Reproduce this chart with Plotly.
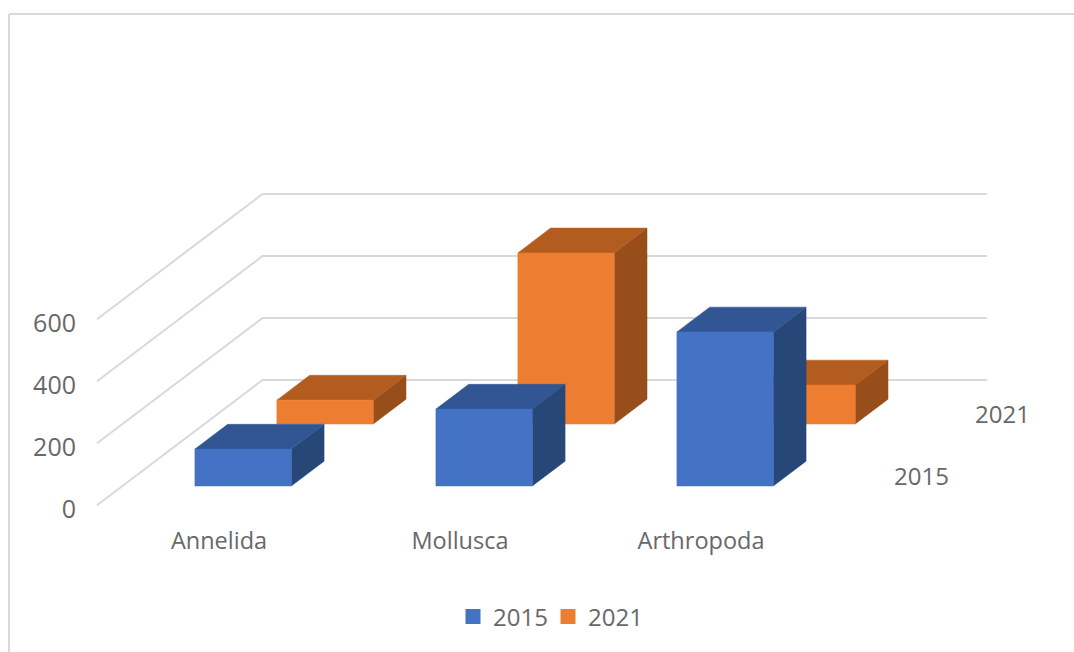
import plotly.graph_objects as go

categories = ["Annelida", "Mollusca", "Arthropoda"]
series_names = ["2015", "2021"]
values_2015 = [119, 248, 497]
values_2021 = [77, 552, 126]
value_ticks = [0, 200, 400, 600]

W, H = 1074, 652
FONT = "Open Sans"
TXT = "#686868"
GRID = "#d9d9d9"
COL = {
    "2015": ("#4472C4", "#325594", "#284779"),
    "2021": ("#ED7D31", "#B25C20", "#974E1A"),
}

# oblique projection: each unit of depth moves right and up on the page
DX = 0.34      # category units per depth unit
DV = 200.0     # value units per depth unit
BAR_L, BAR_R = -0.10, 0.30
BAR_D = 0.40
FLOOR_FRONT, FLOOR_BACK = -0.31, 1.71
WALL_L, WALL_R = -0.401, 2.606
LABEL_X, LABEL_V = 2.913, 35
TICK_LABEL_NUDGE = -13


def proj(c, v, d):
    return c + d * DX, v + d * DV


def poly(points, color):
    xs, ys = zip(*[proj(*p) for p in points])
    return go.Scatter(x=list(xs) + [xs[0]], y=list(ys) + [ys[0]], mode="lines", fill="toself",
                      fillcolor=color, line=dict(width=0.5, color=color),
                      hoverinfo="skip", showlegend=False)


fig = go.Figure()

# gridlines: side wall and back wall
gx, gy = [], []
for t in value_ticks:
    for p in [(WALL_L, t, FLOOR_FRONT), (WALL_L, t, FLOOR_BACK), (WALL_R, t, FLOOR_BACK)]:
        x, y = proj(*p)
        gx.append(x)
        gy.append(y)
    gx.append(None)
    gy.append(None)
fig.add_trace(go.Scatter(x=gx, y=gy, mode="lines", line=dict(color=GRID, width=2),
                         hoverinfo="skip", showlegend=False))

# columns, back row first
rows = [("2021", values_2021, 1.0), ("2015", values_2015, 0.0)]
for name, vals, d in rows:
    front, top, side = COL[name]
    for i, v in enumerate(vals):
        l, r = i + BAR_L, i + BAR_R
        e = d + BAR_D
        fig.add_trace(poly([(r, 0, d), (r, 0, e), (r, v, e), (r, v, d)], side))
        fig.add_trace(poly([(l, v, d), (r, v, d), (r, v, e), (l, v, e)], top))
        fig.add_trace(poly([(l, 0, d), (r, 0, d), (r, v, d), (l, v, d)], front))

# legend entries
for name in series_names:
    fig.add_trace(go.Scatter(x=[None], y=[None], mode="markers", name=name,
                             marker=dict(symbol="square", size=15, color=COL[name][0])))

# depth axis labels
for name, d in [("2015", 0.0), ("2021", 1.0)]:
    x, y = proj(LABEL_X, LABEL_V, d)
    fig.add_annotation(x=x, y=y, text=name, showarrow=False,
                       font=dict(family=FONT, size=24, color=TXT))

# frame
fig.add_shape(type="line", xref="paper", yref="paper", x0=9 / W, x1=1, y0=1 - 14 / H, y1=1 - 14 / H,
              line=dict(color=GRID, width=2))
fig.add_shape(type="line", xref="paper", yref="paper", x0=9 / W, x1=9 / W, y0=0, y1=1 - 14 / H,
              line=dict(color=GRID, width=2))

fig.update_layout(
    width=W, height=H, margin=dict(l=0, r=0, t=0, b=0),
    paper_bgcolor="white", plot_bgcolor="white",
    font=dict(family=FONT, size=23.5, color=TXT),
    showlegend=True,
    legend=dict(orientation="h", x=548 / W, xanchor="center", y=(H - 617) / H, yanchor="middle",
                itemwidth=30, entrywidth=50, entrywidthmode="pixels",
                font=dict(family=FONT, size=24, color=TXT), bgcolor="rgba(0,0,0,0)"),
    xaxis=dict(range=[-219 / 241, (W - 219) / 241], tickmode="array", tickvals=[0, 1, 2],
               ticktext=categories, showgrid=False, zeroline=False, showline=False, ticks="",
               anchor="free", position=(H - 524) / H, domain=[0, 1]),
    yaxis=dict(range=[(486 - H) / 0.31, 486 / 0.31], tickmode="array",
               tickvals=[t + FLOOR_FRONT * DV + TICK_LABEL_NUDGE for t in value_ticks],
               ticktext=[str(t) for t in value_ticks], showgrid=False, zeroline=False, showline=False,
               ticks="", anchor="free", position=76 / W, domain=[0, 1],
               tickfont=dict(family=FONT, size=25, color=TXT)),
)

fig.write_html("out.html", config={"displayModeBar": False},
               post_script="document.body.style.margin='0';")
